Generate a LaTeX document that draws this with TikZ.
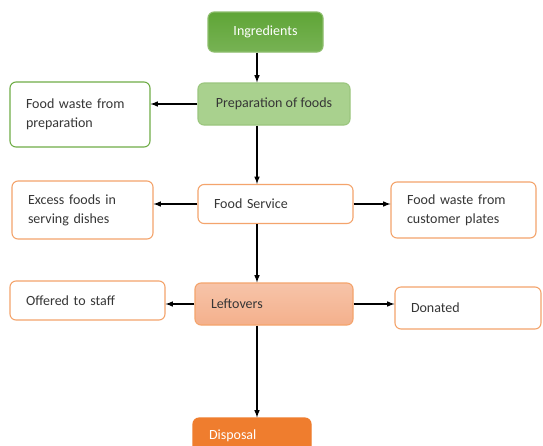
\documentclass[tikz,border=0pt]{standalone}
\usepackage{fontspec}
\setmainfont{Carlito}
\usetikzlibrary{arrows,positioning}
\definecolor{txtgray}{HTML}{363636}
\definecolor{grnline}{HTML}{70AD47}
\definecolor{grndark}{HTML}{5FA536}
\definecolor{grnlight}{HTML}{A9D18E}
\definecolor{orgline}{HTML}{F4A46C}
\definecolor{orgfill}{HTML}{F4B08C}
\definecolor{orgdark}{HTML}{EF7D2E}
\tikzset{
  box/.style={draw, rounded corners=6pt, line width=1.1pt, fill=white,
    text=txtgray, font=\fontsize{14}{19}\selectfont, inner xsep=16pt},
  leftbox/.style={box, align=left},
  flow/.style={-latex, line width=1.5pt}
}
\begin{document}
\begin{tikzpicture}[x=1pt,y=-1pt]
\useasboundingbox[fill=white] (0,0) rectangle (543,445);
\coordinate (spine) at (257,0); % vertical line of the arrows
% middle column
\node[box, draw=grnline!80, top color=grndark, bottom color=grndark!85!white, text=white,
  minimum width=115, minimum height=40] (ingr) at (265.5,32) {Ingredients};
\node[box, draw=grnline!70, fill=grnlight, minimum width=152, minimum height=42] (prep) at (274,104) {Preparation of foods};
\node[leftbox, draw=orgline, text width=123, minimum height=39] (serv) at (275.5,204) {Food Service};
\node[leftbox, draw=orgline, top color=orgfill!75!white, bottom color=orgfill, text width=126, minimum height=42] (left) at (274,304) {Leftovers};
\node[leftbox, draw=orgdark, fill=orgdark, text=white, text width=86, minimum height=36] (disp) at (252,436) {Disposal};
% side boxes
\node[leftbox, draw=grnline, text width=108, minimum height=65] (wprep) at (80,114.5) {Food waste from\\preparation};
\node[leftbox, draw=orgline, text width=109, minimum height=58] (excess) at (82.5,210) {Excess foods in\\serving dishes};
\node[leftbox, draw=orgline, text width=113, minimum height=56] (plates) at (463.5,210) {Food waste from\\customer plates};
\node[leftbox, draw=orgline, text width=123, minimum height=39] (staff) at (87.5,300.5) {Offered to staff};
\node[leftbox, draw=orgline, text width=114, minimum height=42] (don) at (468,308) {Donated};
% arrows
\draw[flow] (ingr.south -| spine) -- (prep.north -| spine);
\draw[flow] (prep.west) -- (prep.west -| wprep.east);
\draw[flow] (prep.south -| spine) -- (serv.north -| spine);
\draw[flow] (serv.west) -- (serv.west -| excess.east);
\draw[flow] (serv.east) -- (serv.east -| plates.west);
\draw[flow] (serv.south -| spine) -- (left.north -| spine);
\draw[flow] (left.west) -- (left.west -| staff.east);
\draw[flow] (left.east) -- (left.east -| don.west);
\draw[flow] (left.south -| spine) -- (disp.north -| spine);
\end{tikzpicture}
\end{document}
